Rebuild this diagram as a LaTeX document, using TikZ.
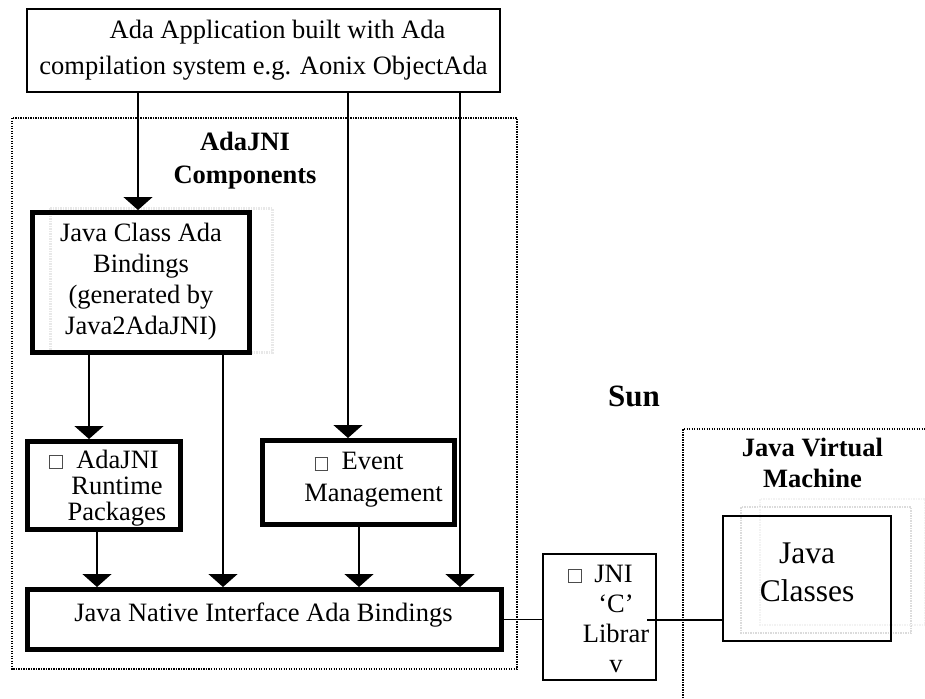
\documentclass[tikz,border=0pt]{standalone}
\usepackage{fontspec}
\setmainfont{Liberation Serif}
\usetikzlibrary{arrows.meta}
% empty square standing for a symbol the font could not show
\newcommand{\nochar}{{\color{black!70}\setlength{\fboxsep}{0pt}\setlength{\fboxrule}{0.8pt}\fbox{\rule{0pt}{12.5pt}\hspace{11.5pt}}}}
\begin{document}
\begin{tikzpicture}[x=1pt,y=-1pt,
  thickbox/.style={draw, line width=5pt, outer sep=2.5pt, inner sep=0pt},
  thinbox/.style={draw, line width=1.5pt, outer sep=0.75pt, inner sep=0pt},
  txt/.style={inner sep=0pt, align=center},
  body/.style={txt, font=\fontsize{26.5}{32}\selectfont},
  head/.style={txt, font=\bfseries\fontsize{26.5}{32}\selectfont},
  link/.style={line width=1.5pt},
  arr/.style={link, -{Triangle[width=29pt,length=13pt]}},
  dotframe/.style={line width=1.2pt, dash pattern=on 1.2pt off 1.3pt},
  ghost/.style={draw=black!9, line width=1.2pt, dash pattern=on 1.5pt off 1pt}]
\useasboundingbox (0,0) rectangle (925,698);

% faint offset outlines
\draw[ghost, line width=3pt] (50,208) rectangle (272,352);
\draw[ghost, draw=black!14] (741,507) rectangle (911,633);
\draw[ghost, draw=black!5] (760,499) rectangle (925,625);

% dotted groupings
\draw[dotframe] (12,118) rectangle (517,669);
\draw[dotframe] (683,698) -- (683,429) -- (925,429);

% boxes
\node[thinbox, body, font=\fontsize{26.5}{36}\selectfont,
      minimum width=473pt, minimum height=83pt] (app) at (263.5,50.5)
  {\hspace*{28pt}Ada Application built with Ada\\compilation system e.g. Aonix ObjectAda};
\node[thickbox, minimum width=217pt, minimum height=140pt] (jca) at (141,282.5) {};
\node[thickbox, minimum width=153pt, minimum height=88pt] (rt) at (104,485.5) {};
\node[thickbox, minimum width=192pt, minimum height=84pt] (evt) at (358.5,482.5) {};
\node[thickbox, minimum width=474pt, minimum height=60pt] (jab) at (264.5,619.5) {};
\node[thinbox, minimum width=113pt, minimum height=126pt] (jni) at (599.5,617) {};
\node[thinbox, line width=1.8pt, minimum width=168pt, minimum height=125pt] (jc) at (807,578.5) {};

% box texts
\node[body, font=\fontsize{26.5}{31}\selectfont] (jcatext) at (141,282)
  {Java Class Ada\\Bindings\\(generated by\\Java2AdaJNI)};
\node[body, font=\fontsize{26.5}{26}\selectfont] (rttext) at (117,488)
  {\nochar\hspace{14pt}AdaJNI\hspace*{26pt}\\Runtime\\Packages};
\node[body] (evttext) at (373.5,480)
  {\nochar\hspace{14pt}Event\hspace*{29pt}\\Management};
\node[body] (jabtext) at (263.5,615) {Java Native Interface Ada Bindings};
\node[body, font=\fontsize{26.5}{30}\selectfont] (jnitext) at (616,618.7)
  {\nochar\hspace{13pt}JNI\hspace*{31pt}\\‘C’\\Librar\\v};
\node[txt, font=\fontsize{31.5}{37.7}\selectfont] (jctext) at (807,572.5) {Java\\Classes};

% headings
\node[head, font=\bfseries\fontsize{26.5}{32.5}\selectfont] (comp) at (245,160.8) {AdaJNI\\Components};
\node[txt, font=\bfseries\fontsize{31}{36}\selectfont] (sun) at (634,396.7) {Sun};
\node[head, font=\bfseries\fontsize{26.5}{31.3}\selectfont] (jvm) at (812.5,462.7) {Java Virtual\\Machine};

% connector columns
\coordinate (c1) at (138,0);
\coordinate (c2) at (89,0);
\coordinate (c3) at (223,0);
\coordinate (c4) at (348,0);
\coordinate (c5) at (460,0);
\coordinate (c6) at (97,0);
\coordinate (c7) at (359,0);
\coordinate (jl) at (647,620);

\draw[arr] (app.south -| c1) -- (jca.north -| c1);
\draw[arr] (jca.south -| c2) -- (rt.north -| c2);
\draw[arr] (jca.south -| c3) -- (jab.north -| c3);
\draw[arr] (app.south -| c4) -- (evt.north -| c4);
\draw[arr] (app.south -| c5) -- (jab.north -| c5);
\draw[arr] (rt.south -| c6) -- (jab.north -| c6);
\draw[arr] (evt.south -| c7) -- (jab.north -| c7);

\draw[link] (jab.east) -- (jab.east -| jni.west);
\draw[link] (jl) -- (jl -| jc.west);
\end{tikzpicture}
\end{document}
